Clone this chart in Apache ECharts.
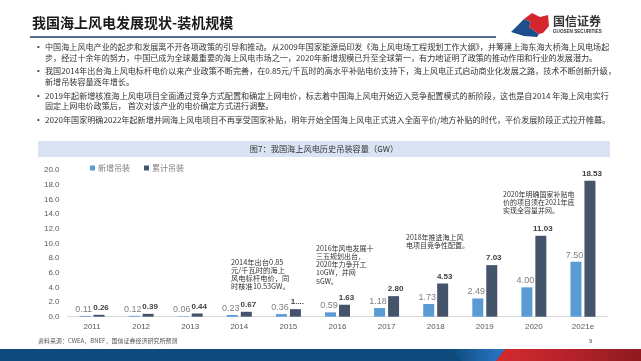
<!DOCTYPE html>
<html>
<head>
<meta charset="utf-8">
<style>
html,body{margin:0;padding:0;background:#fff;}
#c{width:641px;height:361px;}
</style>
<script src="https://cdn.jsdelivr.net/npm/echarts@6/dist/echarts.min.js"></script>
</head>
<body>
<div id="c"></div>
<script>
const categories = ['2011','2012','2013','2014','2015','2016','2017','2018','2019','2020','2021e'];
const newInstalled = [0.11, 0.12, 0.06, 0.23, 0.36, 0.59, 1.18, 1.73, 2.49, 4.00, 7.50];
const cumulative = [0.26, 0.39, 0.44, 0.67, 1.03, 1.63, 2.80, 4.53, 7.03, 11.03, 18.53];
const truncatedCumLabels = {4: '1....'};
const seriesNames = ['新增吊装', '累计吊装'];
const yMin = 0, yMax = 20, yStep = 2;

const slideTitle = '我国海上风电发展现状-装机规模';
const chartTitle = '图7：我国海上风电历史吊装容量（GW）';
const sourceText = '资料来源：CWEA，BNEF，国信证券经济研究所预测';
const pageNo = '9';
const bulletLines = [
  ['中国海上风电产业的起步和发展离不开各项政策的引导和推动。从2009年国家能源局印发《海上风电场工程规划工作大纲》，并筹建上海东海大桥海上风电场起',
   '步，经过十余年的努力，中国已成为全球最重要的海上风电市场之一，2020年新增规模已升至全球第一，有力地证明了政策的推动作用和行业的发展潜力。'],
  ['我国2014年出台海上风电标杆电价以来产业政策不断完善，在0.85元/千瓦时的高水平补贴电价支持下，海上风电正式启动商业化发展之路，技术不断创新升级，',
   '新增吊装容量逐年增长。'],
  ['2019年起新增核准海上风电项目全面通过竞争方式配置和确定上网电价，标志着中国海上风电开始迈入竞争配置模式的新阶段，这也是自2014 年海上风电实行',
   '固定上网电价政策后， 首次对该产业的电价确定方式进行调整。'],
  ['2020年国家明确2022年起新增并网海上风电项目不再享受国家补贴，明年开始全国海上风电正式进入全面平价/地方补贴的时代，平价发展阶段正式拉开帷幕。']
];
const annotations = [
  {text: '2014年出台0.85\n元/千瓦时的海上\n风电标杆电价，同\n时核准10.53GW。', x: 231, y: 258, size: 7.3},
  {text: '2016年风电发展十\n三五规划出台，\n2020年力争开工\n10GW，并网\n5GW。', x: 316, y: 244, size: 7},
  {text: '2018年推进海上风\n电项目竞争性配置。', x: 406, y: 233, size: 7},
  {text: '2020年明确国家补贴电\n价的项目须在2021年底\n实现全容量并网。', x: 503, y: 190, size: 7}
];

const CJK = '"Noto Sans CJK SC", "Liberation Sans", sans-serif';
const LAT = '"Liberation Sans", "Noto Sans CJK SC", sans-serif';

const graphics = [];
// slide title
graphics.push({type:'text', style:{text: slideTitle, x: 32, y: 23, fill:'#1a1a1a', font:'bold 14px ' + CJK, textVerticalAlign:'middle', verticalAlign:'middle'}});
graphics.push({type:'line', shape:{x1:30, y1:37, x2:496, y2:37}, style:{stroke:'#1f3864', lineWidth:1.5}});
// logo
graphics.push({type:'polygon', shape:{points:[[511,32],[524,19],[531,22],[529,27],[539,34],[537,37],[524,36]]}, style:{fill:'#1d4f8c'}});
graphics.push({type:'polygon', shape:{points:[[524,19],[532,13],[540,17],[548,15],[549,26],[543,33],[539,34],[529,27],[531,22]]}, style:{fill:'#d3262e'}});
graphics.push({type:'text', style:{text:'国信证券', x: 553, y: 21, fill:'#333', font:'bold 12px ' + CJK, textVerticalAlign:'middle', verticalAlign:'middle'}});
graphics.push({type:'text', style:{text:'GUOSEN SECURITIES', x: 553, y: 32, fill:'#333', font:'bold 4.6px ' + LAT, textVerticalAlign:'middle', verticalAlign:'middle'}});
// bullets
const bulletY = [[47, 57.5], [71, 81.5], [95.5, 106], [119.5]];
bulletLines.forEach((lines, i) => {
  graphics.push({type:'text', style:{text:'•', x: 37, y: bulletY[i][0], fill:'#404040', font:'8px ' + LAT, textVerticalAlign:'middle', verticalAlign:'middle'}});
  lines.forEach((ln, j) => {
    graphics.push({type:'text', style:{text: ln, x: 45, y: bulletY[i][j], fill:'#333', font:'8.1px ' + CJK, textVerticalAlign:'middle', verticalAlign:'middle'}});
  });
});
// chart title band
graphics.push({type:'rect', shape:{x:38, y:141, width:572, height:16}, style:{fill:'#dae3f3'}});
graphics.push({type:'text', style:{text: chartTitle, x: 324, y: 149, fill:'#333', font:'8.2px ' + CJK, textAlign:'center', align:'center', textVerticalAlign:'middle', verticalAlign:'middle'}});
// annotations
annotations.forEach(a => {
  graphics.push({type:'text', style:{text: a.text, x: a.x, y: a.y, fill:'#333', font: a.size + 'px ' + CJK, lineHeight: 8.2}});
});
// source and page
graphics.push({type:'text', style:{text: sourceText, x: 38, y: 341, fill:'#555', font:'6px ' + CJK, textVerticalAlign:'middle', verticalAlign:'middle'}});
graphics.push({type:'text', style:{text: pageNo, x: 589, y: 341, fill:'#555', font:'6px ' + LAT, textVerticalAlign:'middle', verticalAlign:'middle'}});
// footer bar
graphics.push({type:'rect', shape:{x:0, y:349, width:641, height:12}, style:{fill:'#0e4a7c'}});
graphics.push({type:'polygon', shape:{points:[[450,349],[505,349],[496,361],[462,361]]}, style:{fill:{type:'linear', x:0, y:0, x2:1, y2:0, colorStops:[{offset:0,color:'#0e4a7c'},{offset:1,color:'#2a78c8'}]}}});
graphics.push({type:'polygon', shape:{points:[[505,349],[641,349],[641,361],[496,361]]}, style:{fill:{type:'linear', x:0, y:0, x2:1, y2:0, colorStops:[{offset:0,color:'#d42a30'},{offset:0.5,color:'#b6222a'},{offset:1,color:'#8e1b20'}]}}});

const chart = echarts.init(document.getElementById('c'), null, {renderer:'canvas'});
chart.setOption({
  backgroundColor: '#ffffff',
  animation: false,
  textStyle: {fontFamily: LAT},
  legend: {
    left: 85, top: 159, itemWidth: 5, itemHeight: 5, itemGap: 14,
    icon: 'rect',
    textStyle: {fontSize: 8, color: '#7f7f7f', fontFamily: CJK, padding: [0,0,0,-2]},
    data: seriesNames
  },
  grid: {left: 67.5, right: 33.5, top: 170, bottom: 44.3, containLabel: false},
  xAxis: {
    type: 'category', data: categories,
    axisLine: {lineStyle: {color: '#d9d9d9', width: 1}},
    axisTick: {show: false},
    axisLabel: {fontSize: 8, color: '#595959', margin: 6, fontFamily: LAT}
  },
  yAxis: {
    type: 'value', min: yMin, max: yMax, interval: yStep,
    axisLine: {show: false}, axisTick: {show: false},
    splitLine: {show: false},
    axisLabel: {fontSize: 8, color: '#595959', margin: 8, fontFamily: LAT, formatter: v => v.toFixed(1)}
  },
  series: [
    {
      name: seriesNames[0], type: 'bar', data: newInstalled,
      barWidth: 11, barGap: '27%',
      itemStyle: {color: '#5b9bd5'},
      label: {show: true, position: 'top', distance: 2, offset: [-1.5, 0], fontSize: 9, color: '#7f7f7f', fontFamily: LAT,
              formatter: p => p.value.toFixed(2)}
    },
    {
      name: seriesNames[1], type: 'bar', data: cumulative,
      barWidth: 11,
      itemStyle: {color: '#44546a'},
      label: {show: true, position: 'top', distance: 3, offset: [2, 0], fontSize: 8, fontWeight: 'bold', color: '#404040', fontFamily: LAT,
              formatter: p => truncatedCumLabels[p.dataIndex] || p.value.toFixed(2)}
    }
  ],
  graphic: {elements: graphics}
});
</script>
</body>
</html>
